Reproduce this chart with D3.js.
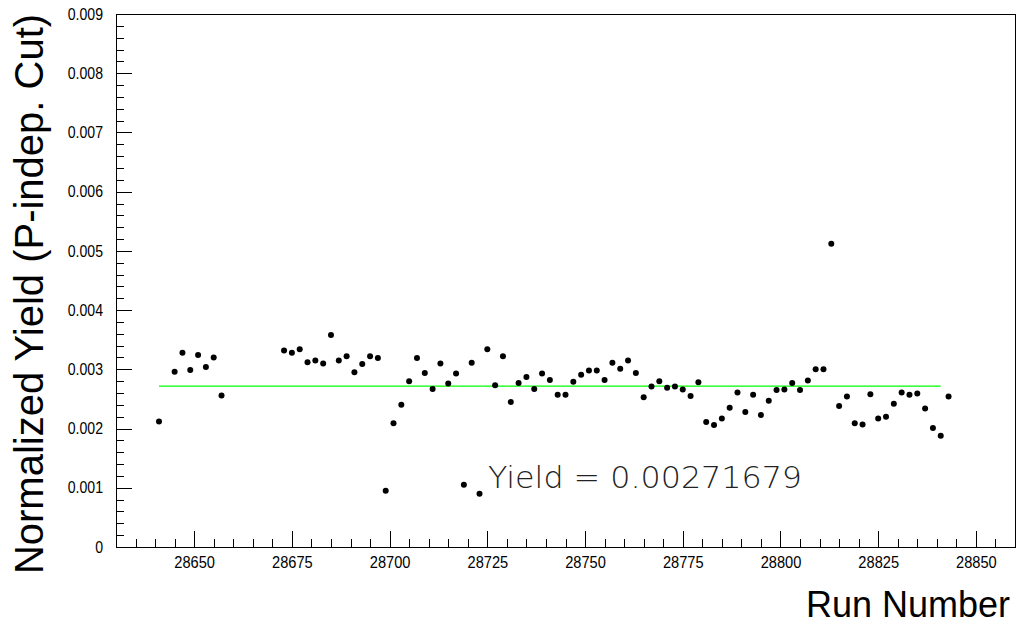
<!DOCTYPE html>
<html>
<head>
<meta charset="utf-8">
<script src="https://cdn.jsdelivr.net/npm/d3@7"></script>
<style>
  html, body { margin: 0; padding: 0; background: #fff; }
  svg { display: block; }
</style>
</head>
<body>
<svg id="chart" width="1019" height="626"></svg>
<script>
// ---- data ----
const runs = [
  28641, 28645, 28647, 28649, 28651, 28653, 28655, 28657,
  28673, 28675, 28677, 28679, 28681, 28683, 28685, 28687, 28689, 28691,
  28693, 28695, 28697, 28699, 28701, 28703, 28705, 28707, 28709, 28711,
  28713, 28715, 28717, 28719, 28721, 28723, 28725, 28727, 28729, 28731,
  28733, 28735, 28737, 28739, 28741, 28743, 28745, 28747, 28749, 28751,
  28753, 28755, 28757, 28759, 28761, 28763, 28765, 28767, 28769, 28771,
  28773, 28775, 28777, 28779, 28781, 28783, 28785, 28787, 28789, 28791,
  28793, 28795, 28797, 28799, 28801, 28803, 28805, 28807, 28809, 28811,
  28813, 28815, 28817, 28819, 28821, 28823, 28825, 28827, 28829, 28831,
  28833, 28835, 28837, 28839, 28841, 28843
];
const yields = [
  0.00212, 0.00296, 0.00328, 0.00299, 0.00324, 0.00304, 0.00320, 0.00256,
  0.00332, 0.00328, 0.00334, 0.00312, 0.00315, 0.00310, 0.00358, 0.00315, 0.00322, 0.00295,
  0.00309, 0.00322, 0.00319, 0.00095, 0.00209, 0.00240, 0.00280, 0.00319, 0.00294, 0.00267,
  0.00310, 0.00276, 0.00293, 0.00105, 0.00311, 0.00090, 0.00334, 0.00273, 0.00322, 0.00245,
  0.00277, 0.00287, 0.00267, 0.00293, 0.00282, 0.00257, 0.00257, 0.00279, 0.00291, 0.00298,
  0.00298, 0.00282, 0.00311, 0.00301, 0.00315, 0.00294, 0.00253, 0.00271, 0.00280, 0.00269,
  0.00271, 0.00266, 0.00255, 0.00278, 0.00211, 0.00206, 0.00217, 0.00235, 0.00261, 0.00228,
  0.00257, 0.00223, 0.00247, 0.00265, 0.00266, 0.00277, 0.00265, 0.00281, 0.00300, 0.00300,
  0.00512, 0.00238, 0.00254, 0.00209, 0.00207, 0.00258, 0.00217, 0.00220, 0.00242, 0.00261,
  0.00257, 0.00259, 0.00234, 0.00201, 0.00188, 0.00254
];
const fitValue = 0.00271679;
const fitRange = [28641, 28841];
const xDomain = [28630, 28860];
const yDomain = [0, 0.009];
const xMajorTicks = [28650, 28675, 28700, 28725, 28750, 28775, 28800, 28825, 28850];
const yMajorTicks = [0, 0.001, 0.002, 0.003, 0.004, 0.005, 0.006, 0.007, 0.008, 0.009];
const yTickLabels = ["0", "0.001", "0.002", "0.003", "0.004", "0.005", "0.006", "0.007", "0.008", "0.009"];
const xTitle = "Run Number";
const yTitle = "Normalized Yield (P-indep. Cut)";
const fitLabel = "Yield = 0.00271679";

// ---- layout ----
const L = 116, R = 1015, T = 14, B = 547;
const svg = d3.select("#chart");
const x = d3.scaleLinear().domain(xDomain).range([L, R]);
const y = d3.scaleLinear().domain(yDomain).range([B, T]);

const font = "'Liberation Sans', Arial, Helvetica, sans-serif";

// minor tick values
const xMinor = d3.range(28635, 28860, 5).filter(v => !xMajorTicks.includes(v));
const yMinor = d3.range(0, 45).map(i => i * 0.0002).filter((v, i) => i % 5 !== 0 && v < 0.009);

// frame
svg.append("rect").attr("x", L).attr("y", T).attr("width", R - L).attr("height", B - T)
  .attr("fill", "none").attr("stroke", "#000").attr("stroke-width", 1)
  .attr("shape-rendering", "crispEdges");

function condense(sel, k) {
  sel.each(function () {
    const w = this.getComputedTextLength();
    d3.select(this).attr("textLength", w * k).attr("lengthAdjust", "spacingAndGlyphs");
  });
}

// x axis
const gx = svg.append("g").attr("transform", `translate(0,${B})`)
  .call(d3.axisBottom(x).tickValues(xMajorTicks).tickSizeInner(-16).tickSizeOuter(0).tickPadding(9).tickFormat(d3.format("d")));
gx.select(".domain").remove();
gx.selectAll("line").attr("stroke", "#000").attr("shape-rendering", "crispEdges");
gx.selectAll("text").attr("font-family", font).attr("font-size", 17).attr("fill", "#000").attr("dy", "0.68em");
condense(gx.selectAll("text"), 0.86);

const gxm = svg.append("g").attr("transform", `translate(0,${B})`)
  .call(d3.axisBottom(x).tickValues(xMinor).tickSizeInner(-8).tickSizeOuter(0).tickFormat(""));
gxm.select(".domain").remove();
gxm.selectAll("line").attr("stroke", "#000").attr("shape-rendering", "crispEdges");

// y axis
const gy = svg.append("g").attr("transform", `translate(${L},0)`)
  .call(d3.axisLeft(y).tickValues(yMajorTicks).tickSizeInner(-16).tickSizeOuter(0).tickPadding(13)
    .tickFormat((d, i) => yTickLabels[i]));
gy.select(".domain").remove();
gy.selectAll("line").attr("stroke", "#000").attr("shape-rendering", "crispEdges");
gy.selectAll("text").attr("font-family", font).attr("font-size", 16).attr("fill", "#000");
condense(gy.selectAll("text"), 0.88);

const gym = svg.append("g").attr("transform", `translate(${L},0)`)
  .call(d3.axisLeft(y).tickValues(yMinor).tickSizeInner(-8).tickSizeOuter(0).tickFormat(""));
gym.select(".domain").remove();
gym.selectAll("line").attr("stroke", "#000").attr("shape-rendering", "crispEdges");

// fit line
svg.append("line")
  .attr("x1", x(fitRange[0])).attr("x2", x(fitRange[1]))
  .attr("y1", y(fitValue)).attr("y2", y(fitValue))
  .attr("stroke", "#00ff00").attr("stroke-width", 1.3);

// points
svg.append("g").selectAll("circle")
  .data(runs.map((r, i) => ({ r, v: yields[i] })))
  .join("circle")
  .attr("cx", d => x(d.r)).attr("cy", d => y(d.v)).attr("r", 3)
  .attr("fill", "#000");

// fit label
svg.append("text")
  .attr("x", 488).attr("y", 488)
  .attr("font-family", "'DejaVu Sans', sans-serif").attr("font-weight", 200)
  .attr("font-size", 31).attr("fill", "#222")
  .attr("textLength", 314).attr("lengthAdjust", "spacingAndGlyphs")
  .text(fitLabel);

// titles
svg.append("text")
  .attr("x", 1010).attr("y", 617).attr("text-anchor", "end")
  .attr("font-family", font).attr("font-size", 36).attr("fill", "#000")
  .text(xTitle);

svg.append("text")
  .attr("transform", `translate(43,${(11 + 577) / 2}) rotate(-90)`)
  .attr("text-anchor", "middle")
  .attr("font-family", font).attr("font-size", 40).attr("fill", "#000")
  .text(yTitle);
</script>
</body>
</html>
